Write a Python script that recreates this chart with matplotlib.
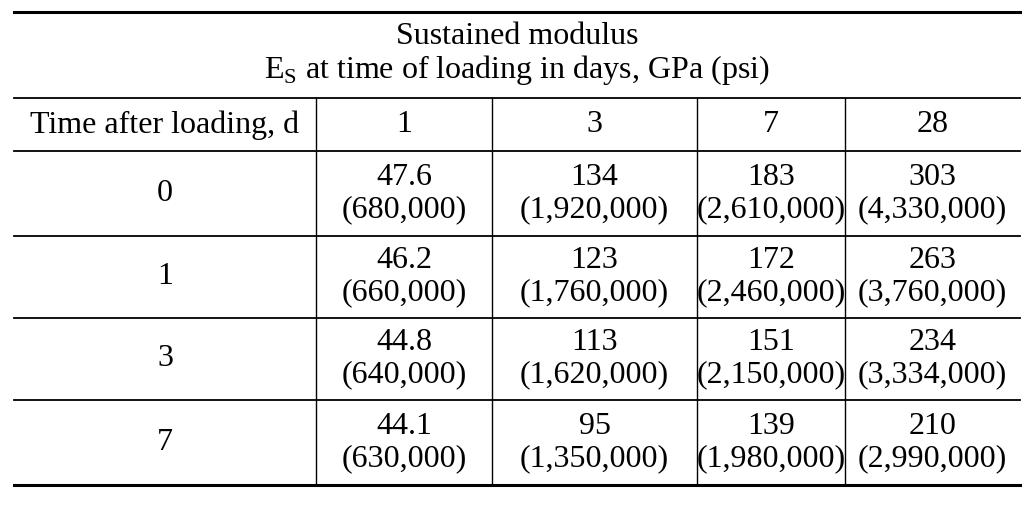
import matplotlib
matplotlib.use("Agg")
import matplotlib.pyplot as plt

plt.rcParams['font.family'] = ['Liberation Serif', 'DejaVu Serif']
plt.rcParams['mathtext.fontset'] = 'custom'
plt.rcParams['mathtext.rm'] = 'Liberation Serif'

title1 = "Sustained modulus"
title2 = r"E$_\mathrm{S}$ at time of loading in days, GPa (psi)"
row_header = "Time after loading, d"
load_days = ["1", "3", "7", "28"]
after_days = ["0", "1", "3", "7"]
gpa = [["47.6", "134", "183", "303"],
       ["46.2", "123", "172", "263"],
       ["44.8", "113", "151", "234"],
       ["44.1", "95", "139", "210"]]
psi = [["680,000", "1,920,000", "2,610,000", "4,330,000"],
       ["660,000", "1,760,000", "2,460,000", "3,760,000"],
       ["640,000", "1,620,000", "2,150,000", "3,334,000"],
       ["630,000", "1,350,000", "1,980,000", "2,990,000"]]

fig = plt.figure(figsize=(10.34, 5.07), dpi=100)
ax = fig.add_axes([0, 0, 1, 1])
ax.set_xlim(0, 1034); ax.set_ylim(507, 0); ax.axis('off')

xl, xr = 14, 1020
cols = [xl, 316, 492, 697, 845, xr]
rows = [98, 151, 236, 318, 400, 485]
fs = 23
ax.plot([xl, xr], [12, 12], color='black', lw=2.2)
ax.plot([xl, xr], [485, 485], color='black', lw=2.2)
for y in rows[:-1]:
    ax.plot([xl, xr], [y, y], color='black', lw=1.3)
for x in cols[1:-1]:
    ax.plot([x, x], [98, 485], color='black', lw=1.0)

ax.text(517, 36, title1, ha='center', va='center', fontsize=fs)
ax.text(517, 70, title2, ha='center', va='center', fontsize=fs)
ax.text((cols[0] + cols[1]) / 2, 125, row_header, ha='center', va='center', fontsize=fs)
for j, d in enumerate(load_days):
    ax.text((cols[j+1] + cols[j+2]) / 2, 125, d, ha='center', va='center', fontsize=fs)
for i, d in enumerate(after_days):
    yc = (rows[i+1] + rows[i+2]) / 2
    ax.text((cols[0] + cols[1]) / 2, yc, d, ha='center', va='center', fontsize=fs)
    for j in range(4):
        xc = (cols[j+1] + cols[j+2]) / 2
        ax.text(xc, yc - 16, gpa[i][j], ha='center', va='center', fontsize=fs)
        ax.text(xc, yc + 16, "(" + psi[i][j] + ")", ha='center', va='center', fontsize=fs)

fig.savefig("out.png", dpi=100)
